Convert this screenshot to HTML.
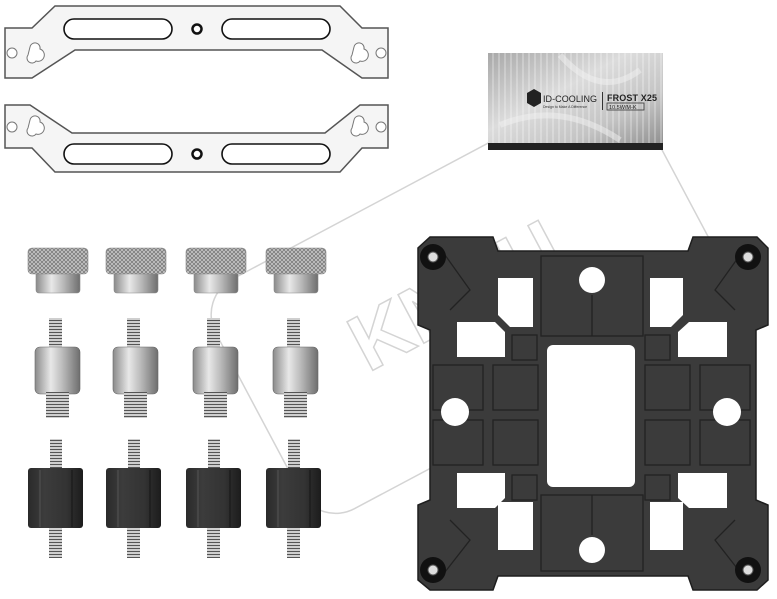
<!DOCTYPE html>
<html><head><meta charset="utf-8"><style>
html,body{margin:0;padding:0;background:#fff;}
svg{display:block;}
</style></head><body>
<svg width="777" height="599" viewBox="0 0 777 599" xmlns="http://www.w3.org/2000/svg">
<defs>
<linearGradient id="steel" x1="0" x2="1" y1="0" y2="0">
<stop offset="0" stop-color="#8a8a8a"/><stop offset="0.35" stop-color="#e8e8e8"/><stop offset="0.6" stop-color="#bdbdbd"/><stop offset="1" stop-color="#6e6e6e"/>
</linearGradient>
<pattern id="knurl" width="4" height="4" patternUnits="userSpaceOnUse">
<rect width="4" height="4" fill="#c8c8c8"/><path d="M0 0L4 4M4 0L0 4" stroke="#7a7a7a" stroke-width="0.8"/>
</pattern>
<pattern id="thread" width="4" height="3" patternUnits="userSpaceOnUse">
<rect width="4" height="3" fill="#cfcfcf"/><rect y="2" width="4" height="1" fill="#555"/>
</pattern>
<pattern id="crink" width="6" height="97" patternUnits="userSpaceOnUse">
<rect width="6" height="97" fill="none"/><rect width="2" height="97" fill="#fff" opacity="0.25"/>
</pattern>
<linearGradient id="foil" x1="0" x2="1" y1="0" y2="1">
<stop offset="0" stop-color="#a8a8a8"/><stop offset="0.4" stop-color="#dcdcdc"/><stop offset="0.7" stop-color="#c4c4c4"/><stop offset="1" stop-color="#8a8a8a"/>
</linearGradient>
<linearGradient id="hex" x1="0" x2="1">
<stop offset="0" stop-color="#2a2a2a"/><stop offset="0.3" stop-color="#3c3c3c"/><stop offset="0.7" stop-color="#333"/><stop offset="1" stop-color="#1c1c1c"/>
</linearGradient>
</defs>

<!-- watermark -->
<g fill="none" stroke="#d4d4d4" stroke-width="1.5">
<rect x="230" y="170" width="480" height="260" rx="40" transform="rotate(-28 470 300)"/>
<text x="340" y="340" font-family="Liberation Sans, sans-serif" font-size="80" font-weight="bold" transform="rotate(-28 420 300)">KNPU</text>
</g>

<!-- top bracket -->
<path d="M55 6 L340 6 L362 28 L388 28 L388 78 L362 78 L322 50 L75 50 L32 78 L5 78 L5 28 L32 28 Z" fill="#f5f5f5" stroke="#555" stroke-width="1.5"/>
<rect x="64" y="19" width="108" height="20" rx="10" fill="#fff" stroke="#111" stroke-width="1.6"/>
<rect x="222" y="19" width="108" height="20" rx="10" fill="#fff" stroke="#111" stroke-width="1.6"/>
<circle cx="197" cy="29" r="4.5" fill="#fff" stroke="#111" stroke-width="2.5"/>
<circle cx="12" cy="53" r="5" fill="#fff" stroke="#777"/><path d="M30 47 a5 5 0 0 1 10 2 a5 5 0 0 1 -4 12 a5 5 0 0 1 -8 -6 Z" fill="#fff" stroke="#777"/>
<circle cx="381" cy="53" r="5" fill="#fff" stroke="#777"/><path d="M354 47 a5 5 0 0 1 10 2 a5 5 0 0 1 -4 12 a5 5 0 0 1 -8 -6 Z" fill="#fff" stroke="#777"/>

<!-- lower bracket -->
<path d="M5 105 L30 105 L72 133 L325 133 L360 105 L388 105 L388 148 L362 148 L340 172 L55 172 L32 148 L5 148 Z" fill="#f5f5f5" stroke="#555" stroke-width="1.5"/>
<rect x="64" y="144" width="108" height="20" rx="10" fill="#fff" stroke="#111" stroke-width="1.6"/>
<rect x="222" y="144" width="108" height="20" rx="10" fill="#fff" stroke="#111" stroke-width="1.6"/>
<circle cx="197" cy="154" r="4.5" fill="#fff" stroke="#111" stroke-width="2.5"/>
<circle cx="12" cy="127" r="5" fill="#fff" stroke="#777"/><path d="M30 120 a5 5 0 0 1 10 2 a5 5 0 0 1 -4 12 a5 5 0 0 1 -8 -6 Z" fill="#fff" stroke="#777"/>
<circle cx="381" cy="127" r="5" fill="#fff" stroke="#777"/><path d="M354 120 a5 5 0 0 1 10 2 a5 5 0 0 1 -4 12 a5 5 0 0 1 -8 -6 Z" fill="#fff" stroke="#777"/>

<!-- thermal paste -->
<rect x="488" y="53" width="175" height="97" fill="url(#foil)"/>
<rect x="488" y="53" width="175" height="90" fill="url(#crink)"/>
<rect x="488" y="143" width="175" height="7" fill="#222"/>
<path d="M560 55 Q600 100 640 70 M500 125 Q560 100 620 140" stroke="#f2f2f2" stroke-width="6" fill="none" opacity="0.5"/>
<path d="M527 93 l7 -4 l7 4 v10 l-7 4 l-7 -4 Z" fill="#222"/>
<text x="543" y="102" font-family="Liberation Sans, sans-serif" font-size="9" fill="#222" textLength="54">ID-COOLING</text>
<text x="543" y="108" font-family="Liberation Sans, sans-serif" font-size="3.5" fill="#333">Design to Make A Difference</text>
<rect x="602" y="92" width="1" height="18" fill="#333"/>
<text x="607" y="101" font-family="Liberation Sans, sans-serif" font-size="9" font-weight="bold" fill="#222" textLength="50">FROST X25</text>
<rect x="607" y="103" width="37" height="7" fill="none" stroke="#333" stroke-width="0.8"/>
<text x="609" y="109" font-family="Liberation Sans, sans-serif" font-size="5.5" fill="#222">10.5W/M-K</text>

<!-- backplate -->
<path d="M430 237 L493 237 L498 251 L688 251 L693 237 L757 237 L768 248 L768 325 L756 330 L756 500 L768 505 L768 580 L757 590 L693 590 L688 576 L498 576 L493 590 L430 590 L418 580 L418 505 L430 500 L430 330 L418 325 L418 248 Z" fill="#3b3b3b" stroke="#1e1e1e" stroke-width="1.5"/>
<g fill="none" stroke="#222" stroke-width="1.3">
<rect x="541" y="256" width="102" height="80"/><line x1="592" y1="295" x2="592" y2="336"/>
<rect x="541" y="495" width="102" height="76"/><line x1="592" y1="495" x2="592" y2="535"/>
<rect x="433" y="365" width="50" height="45"/><rect x="433" y="420" width="50" height="45"/>
<rect x="493" y="365" width="45" height="45"/><rect x="493" y="420" width="45" height="45"/>
<rect x="645" y="365" width="45" height="45"/><rect x="645" y="420" width="45" height="45"/>
<rect x="700" y="365" width="50" height="45"/><rect x="700" y="420" width="50" height="45"/>
<rect x="512" y="335" width="25" height="25"/><rect x="645" y="335" width="25" height="25"/>
<rect x="512" y="475" width="25" height="25"/><rect x="645" y="475" width="25" height="25"/>
<path d="M445 255 L470 290 L450 310 M740 255 L715 290 L735 310 M445 572 L470 540 L450 520 M740 572 L715 540 L735 520"/>
</g>
<g fill="#fff">
<rect x="547" y="345" width="88" height="142" rx="6"/>
<path d="M498 278 H533 V327 H510 L498 315 Z"/>
<path d="M457 322 H495 L505 332 V357 H457 Z"/>
<path d="M650 278 H683 V315 L671 327 H650 Z"/>
<path d="M689 322 H727 V357 H678 V332 Z"/>
<path d="M457 473 H505 V498 L495 508 H457 Z"/>
<path d="M498 502 L510 502 H533 V550 H498 Z"/>
<path d="M678 473 H727 V508 H689 L678 498 Z"/>
<path d="M650 502 H683 V550 H650 Z"/>
<circle cx="592" cy="280" r="13"/><circle cx="592" cy="550" r="13"/>
<circle cx="455" cy="412" r="14"/><circle cx="727" cy="412" r="14"/>
</g>
<g>
<circle cx="433" cy="257" r="13" fill="#111"/><circle cx="433" cy="257" r="5" fill="#ddd" stroke="#555"/>
<circle cx="748" cy="257" r="13" fill="#111"/><circle cx="748" cy="257" r="5" fill="#ddd" stroke="#555"/>
<circle cx="433" cy="570" r="13" fill="#111"/><circle cx="433" cy="570" r="5" fill="#ddd" stroke="#555"/>
<circle cx="748" cy="570" r="13" fill="#111"/><circle cx="748" cy="570" r="5" fill="#ddd" stroke="#555"/>
</g>

<!-- small parts -->
<g id="col">
<rect x="36" y="270" width="44" height="23" rx="3" fill="url(#steel)" stroke="#888" stroke-width="0.6"/>
<rect x="28" y="248" width="60" height="26" rx="4" fill="url(#knurl)" stroke="#888" stroke-width="0.6"/>
<rect x="49" y="318" width="13" height="32" fill="url(#thread)"/>
<rect x="35" y="347" width="45" height="47" rx="5" fill="url(#steel)" stroke="#666" stroke-width="0.6"/>
<rect x="46" y="392" width="23" height="26" fill="url(#thread)"/>
<rect x="50" y="439" width="12" height="32" fill="url(#thread)"/>
<rect x="28" y="468" width="55" height="60" rx="3" fill="url(#hex)"/>
<line x1="40" y1="470" x2="40" y2="527" stroke="#555"/><line x1="72" y1="470" x2="72" y2="527" stroke="#151515"/>
<rect x="49" y="528" width="13" height="30" fill="url(#thread)"/>
</g>
<use href="#col" x="78"/>
<use href="#col" x="158"/>
<use href="#col" x="238"/>
</svg>
</body></html>
